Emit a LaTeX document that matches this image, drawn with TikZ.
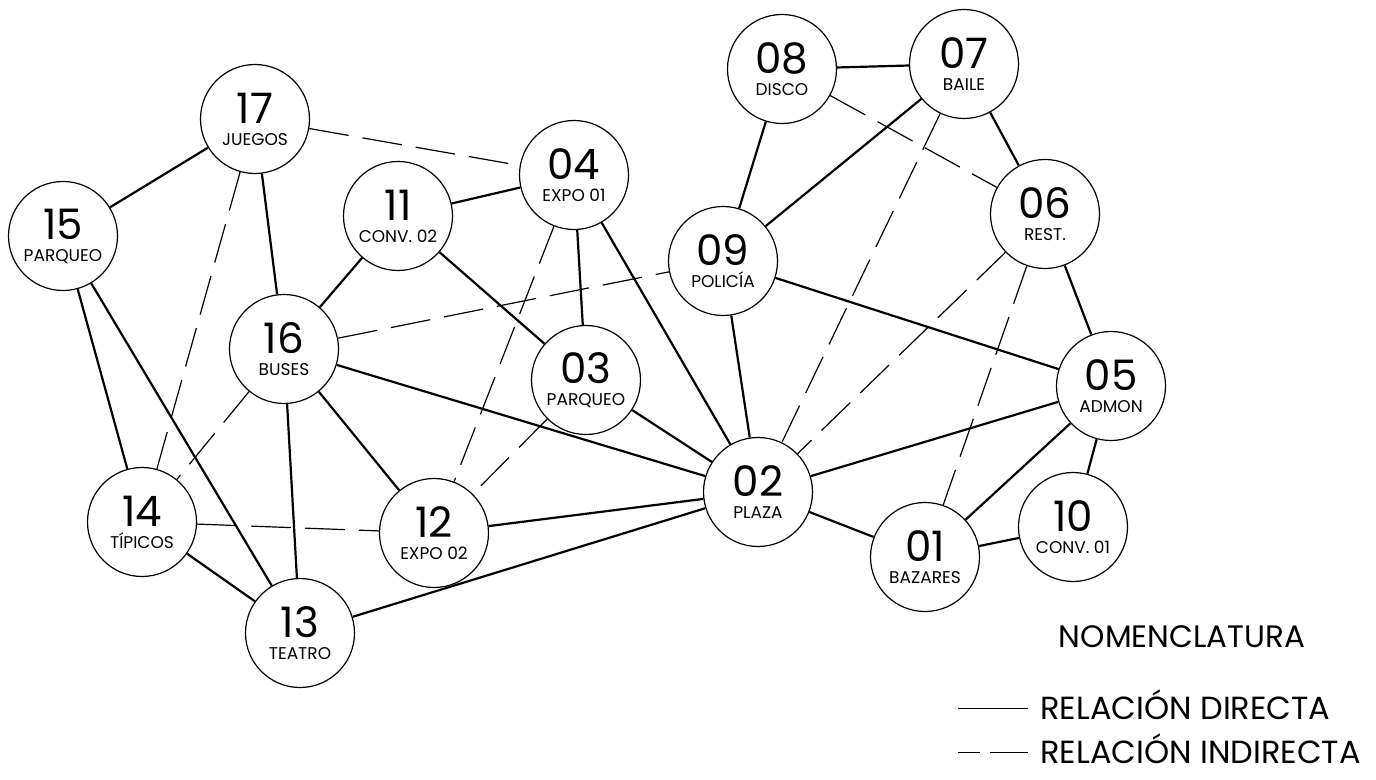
\documentclass[tikz,border=0pt]{standalone}
\usepackage{fontspec}
\setmainfont{Poppins}
\begin{document}
\begin{tikzpicture}[x=0.5pt, y=-0.5pt,
    site/.style={draw, circle, line width=0.6pt, minimum size=54.5pt, inner sep=0pt,
        align=center, font=\fontsize{8.5}{9}\selectfont},
    direct/.style={line width=1.1pt},
    indirect/.style={line width=0.6pt, dash pattern=on 20pt off 7pt},
    legtext/.style={anchor=base west, inner sep=0pt, font=\fontsize{16}{16}\selectfont}]
    % Fix the page to the size of the drawing
    \useasboundingbox (0,0) rectangle (1376,780);
    \newcommand{\bignum}[1]{{\fontsize{21}{21}\selectfont #1}}

    % Sites: number/position/name
    \foreach \id/\pos/\lbl in {17/{255,119}/JUEGOS, 15/{63,236}/PARQUEO,
        11/{398,216}/CONV. 02, 04/{574,175}/EXPO 01, 08/{782,69}/DISCO,
        07/{964,64}/BAILE, 06/{1045,214}/REST., 09/{723,261}/POLICÍA,
        16/{284,349}/BUSES, 03/{586,380}/PARQUEO, 05/{1111,386}/ADMON,
        02/{758,492}/PLAZA, 14/{142,522}/TÍPICOS, 12/{434,533}/EXPO 02,
        13/{300,633}/TEATRO, 01/{925,557}/BAZARES, 10/{1073,527}/CONV. 01} {
        \node[site] (n\id) at (\pos) {\bignum{\id}\\[2pt]\lbl};
    }

    % Direct relations
    \foreach \a/\b in {15/17, 15/14, 15/13, 17/16, 11/04, 11/16, 11/03, 04/03,
        04/02, 08/07, 08/09, 07/09, 07/06, 06/05, 09/02, 09/05, 16/12, 16/13,
        16/02, 03/02, 14/13, 12/02, 13/02, 02/05, 02/01, 01/05, 01/10, 10/05} {
        \draw[direct] (n\a) -- (n\b);
    }
    % Indirect relations
    \foreach \a/\b in {17/04, 17/14, 16/09, 16/14, 04/12, 03/12, 14/12,
        08/06, 07/02, 06/02, 06/01} {
        \draw[indirect] (n\a) -- (n\b);
    }

    % Legend
    \node[anchor=base, inner sep=0pt, font=\fontsize{15.5}{16}\selectfont] (nomen) at (1182,647) {NOMENCLATURA};
    \node[legtext] (ldir) at (1040,719) {RELACIÓN DIRECTA};
    \node[legtext] (lind) at (1040,763) {RELACIÓN INDIRECTA};
    \coordinate (sd0) at (958,708);
    \coordinate (sd1) at (1028,708);
    \coordinate (si0) at (958,752);
    \coordinate (si1) at (1028,752);
    \draw[line width=0.5pt] (sd0) -- (sd1);
    \draw[line width=0.5pt, dash pattern=on 11pt off 5pt on 20pt off 5pt] (si0) -- (si1);
\end{tikzpicture}
\end{document}
